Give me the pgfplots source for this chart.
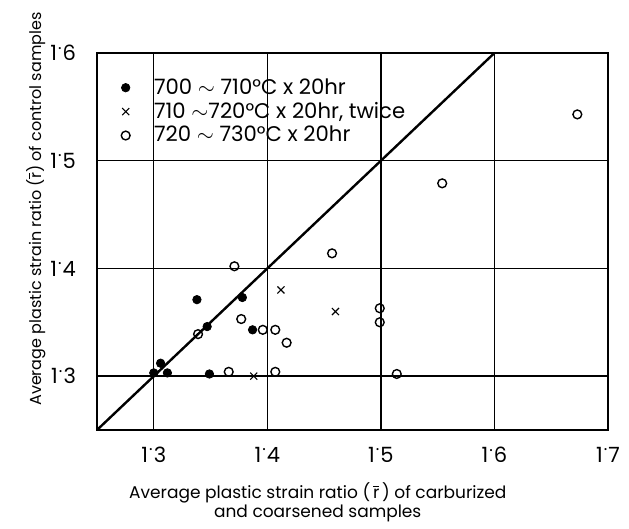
\documentclass[border=0pt]{standalone}
\usepackage{pgfplots}
\pgfplotsset{compat=1.18}
\usepackage{fontspec}
\setmainfont{Poppins}
\newcommand{\dd}{\kern0.05em\raisebox{0.55em}{\scalebox{0.8}{.}}\kern0.05em}
\newcommand{\rbar}{$\overline{\hbox{r}}$}
\begin{document}
\begin{tikzpicture}
\begin{axis}[
  scale only axis,
  width=255.5pt, height=188.5pt,
  xmin=1.25, xmax=1.7, ymin=1.25, ymax=1.6,
  xtick={1.3,1.4,1.5,1.6,1.7},
  ytick={1.3,1.4,1.5,1.6},
  xticklabels={1\dd3,1\dd4,1\dd5,1\dd6,1\dd7},
  yticklabels={1\dd3,1\dd4,1\dd5,1\dd6},
  tick style={draw=none},
  grid=major,
  major grid style={black, line width=0.7pt},
  axis line style={black, line width=0.75pt},
  ticklabel style={font=\fontsize{10.5}{12}\selectfont},
  xticklabel style={yshift=-5pt},
  yticklabel style={xshift=-7pt},
  xlabel={Average plastic strain ratio (\,\rbar\,) of carburized\\and coarsened samples},
  xlabel style={font=\fontsize{8.5}{9.2}\selectfont, align=center, at={(axis description cs:0.432,0)}, anchor=north, yshift=-23pt},
  ylabel={Average plastic strain ratio (\rbar) of control samples},
  ylabel style={font=\fontsize{8}{9}\selectfont, at={(axis description cs:0,0.586)}, anchor=south, xshift=0pt, yshift=22pt},
  legend style={at={(axis description cs:0.035,0.955)}, anchor=north west, draw=none, fill=none,
    font=\fontsize{10.6}{12}\selectfont, row sep=-1.5pt, cells={anchor=west}},
  legend cell align=left,
]
\addplot[only marks, mark=*, mark size=2.1pt, black] coordinates {
 (1.338,1.371) (1.378,1.373) (1.347,1.346) (1.387,1.343) (1.306,1.312)
 (1.300,1.303) (1.312,1.303) (1.349,1.302)
};
\addlegendentry{\hspace*{10pt}700 $\sim$ 710°C x 20hr}
\addplot[only marks, mark=x, mark size=2.5pt, black, mark options={line width=0.55pt}] coordinates {
 (1.412,1.380) (1.388,1.300) (1.460,1.360)
};
\addlegendentry{\hspace*{10pt}710 $\sim$720°C x 20hr, twice}
\addplot[only marks, mark=o, mark size=2.2pt, black, mark options={fill=white, line width=0.7pt}] coordinates {
 (1.371,1.402) (1.377,1.353) (1.339,1.339) (1.396,1.343) (1.407,1.343)
 (1.417,1.331) (1.366,1.304) (1.407,1.304) (1.499,1.363) (1.499,1.350)
 (1.514,1.302) (1.457,1.414) (1.554,1.479) (1.673,1.543)
};
\addlegendentry{\hspace*{10pt}720 $\sim$ 730°C x 20hr}
\addplot[black, line width=1.2pt, no markers, forget plot] coordinates {(1.25,1.25) (1.6,1.6)};
\end{axis}
\path ([shift={(-48.5pt,-48pt)}]current axis.south west) rectangle ([shift={(10.5pt,26.5pt)}]current axis.north east);
\end{tikzpicture}
\end{document}
